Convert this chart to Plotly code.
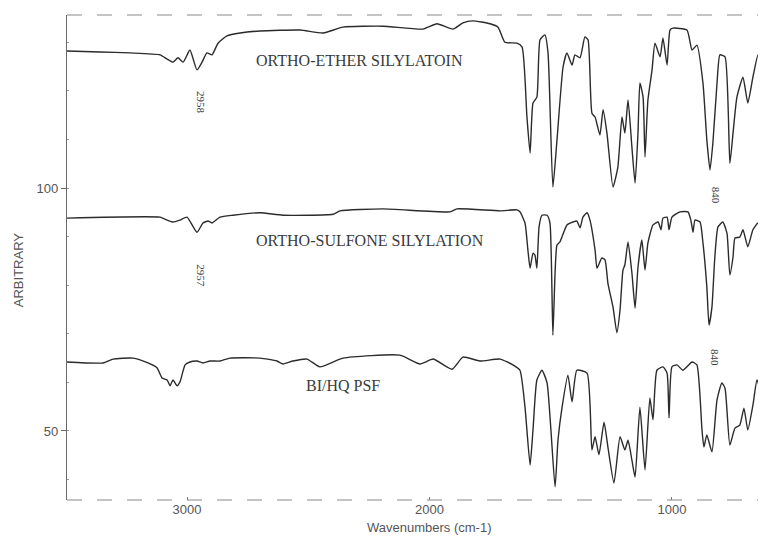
import plotly.graph_objects as go

# ---------------- data ----------------
ether_wn = [3495, 3359, 3235, 3111, 3082, 3058, 3037, 3016, 2988, 2959, 2938, 2918, 2897, 2872,
            2835, 2781, 2699, 2534, 2439, 2357, 2192, 2027, 1969, 1903, 1862, 1821, 1750, 1717,
            1689, 1639, 1618, 1598, 1585, 1573, 1557, 1544, 1524, 1511, 1491, 1474, 1449, 1433,
            1412, 1400, 1379, 1359, 1346, 1330, 1317, 1297, 1284, 1268, 1243, 1223, 1206, 1194,
            1181, 1165, 1152, 1140, 1132, 1119, 1111, 1099, 1082, 1070, 1049, 1037, 1020, 1008,
            996, 938, 917, 897, 872, 856, 843, 831, 814, 802, 781, 761, 748, 732, 707, 687, 666,
            645, 629, 608]
ether_val = [128.2, 128.0, 127.8, 127.4, 126.5, 125.9, 126.8, 125.9, 128.4, 124.3, 125.9, 127.8,
             127.4, 129.8, 131.3, 131.9, 132.3, 132.5, 131.9, 133.1, 133.3, 132.7, 133.8, 132.7,
             134.0, 134.4, 133.8, 133.1, 130.0, 129.8, 129.0, 114.6, 107.2, 117.5, 118.7, 130.5,
             131.5, 127.8, 100.2, 109.9, 124.9, 127.8, 125.3, 127.4, 126.8, 131.1, 130.5, 115.4,
             114.6, 110.9, 116.1, 111.3, 100.2, 104.3, 114.6, 111.3, 118.1, 108.4, 101.0, 111.3,
             121.6, 118.7, 106.4, 118.1, 124.3, 129.8, 127.0, 130.9, 125.3, 132.5, 132.9, 132.5,
             128.4, 129.4, 121.6, 109.9, 103.7, 109.3, 121.6, 127.4, 127.0, 105.1, 111.3, 118.7,
             122.8, 117.5, 122.8, 127.4, 124.9, 126.8]

sulfone_wn = [3495, 3111, 3082, 3058, 3029, 3000, 2959, 2934, 2913, 2897, 2864, 2810, 2699, 2604,
              2398, 2369, 2192, 1915, 1887, 1709, 1639, 1627, 1606, 1594, 1585, 1573, 1565, 1557,
              1548, 1536, 1515, 1503, 1491, 1482, 1474, 1462, 1433, 1408, 1392, 1379, 1367, 1350,
              1338, 1317, 1309, 1289, 1276, 1264, 1243, 1227, 1214, 1202, 1194, 1181, 1165, 1152,
              1140, 1124, 1111, 1099, 1078, 1057, 1045, 1037, 1020, 1012, 1000, 967, 934, 922,
              913, 905, 884, 872, 856, 847, 835, 823, 810, 790, 773, 761, 748, 740, 720, 707, 687,
              666, 645, 629, 616]
sulfone_val = [93.8, 94.0, 93.4, 93.0, 93.4, 94.0, 90.9, 92.8, 93.2, 92.8, 94.0, 94.4, 94.9, 94.4,
               94.6, 95.3, 95.7, 95.1, 95.7, 95.3, 95.5, 95.1, 92.8, 87.2, 83.5, 86.6, 86.2, 83.5,
               92.0, 94.4, 94.4, 92.8, 69.7, 82.5, 88.3, 88.9, 92.4, 93.0, 93.2, 91.8, 94.0, 94.9,
               93.4, 87.2, 83.5, 85.6, 85.2, 80.4, 75.5, 70.2, 74.9, 83.1, 84.2, 88.9, 82.5, 75.3,
               83.7, 89.3, 83.1, 88.7, 92.4, 93.0, 91.4, 93.8, 94.0, 91.4, 94.0, 95.1, 95.1, 93.4,
               90.9, 93.4, 93.0, 88.7, 79.6, 71.8, 75.5, 85.8, 92.0, 93.0, 90.7, 82.1, 85.8, 89.7,
               89.9, 91.4, 87.9, 91.4, 92.8, 91.4, 92.4]

psf_wn = [3495, 3346, 3305, 3223, 3161, 3124, 3103, 3082, 3070, 3058, 3041, 3029, 3008, 2988,
          2959, 2934, 2905, 2864, 2823, 2699, 2629, 2604, 2563, 2505, 2452, 2357, 2122, 2039,
          1985, 1907, 1862, 1792, 1709, 1656, 1627, 1606, 1585, 1573, 1557, 1536, 1515, 1482,
          1470, 1453, 1429, 1412, 1392, 1350, 1330, 1317, 1301, 1280, 1264, 1239, 1214, 1194,
          1181, 1165, 1152, 1132, 1111, 1091, 1078, 1062, 1037, 1020, 1012, 1000, 979, 955,
          917, 897, 876, 868, 856, 835, 814, 794, 781, 761, 740, 720, 703, 687, 666, 649, 629, 612]
psf_val = [64.2, 64.0, 64.8, 65.0, 64.0, 63.0, 60.9, 60.5, 59.3, 60.5, 59.3, 60.1, 63.6, 64.2,
           64.4, 64.0, 64.4, 64.4, 65.0, 65.0, 64.4, 63.8, 64.4, 64.8, 63.2, 65.0, 65.6, 63.8,
           64.8, 62.7, 65.2, 64.4, 64.8, 63.6, 62.5, 54.9, 43.0, 50.2, 60.5, 62.5, 59.9, 38.5,
           48.1, 54.9, 61.5, 56.0, 62.5, 61.9, 46.1, 48.8, 45.1, 51.8, 46.7, 39.3, 48.8, 46.1,
           48.1, 44.0, 40.5, 54.9, 42.0, 56.8, 52.3, 62.5, 63.2, 61.9, 52.7, 63.2, 63.6, 62.5,
           64.2, 63.6, 50.2, 46.7, 49.2, 45.7, 56.4, 59.9, 58.8, 47.1, 50.6, 51.2, 54.7, 50.2,
           55.3, 60.5, 57.8, 58.0]

x_ticks = [3000, 2000, 1000]
y_ticks = [50, 100]

labels = ["ORTHO-ETHER SILYLATOIN", "ORTHO-SULFONE SILYLATION", "BI/HQ PSF"]
label_wn = [2287, 2245, 2357]
label_val = [126.3, 89.1, 59.3]

peak_text = ["2958", "2957", "840", "840"]
peak_wn = [2942, 2946, 818, 822]
peak_val = [117.7, 82.0, 98.6, 65.2]

# ---------------- figure ----------------
LINE = "#2b2b2b"
fig = go.Figure()
for xs, ys in [(ether_wn, ether_val), (sulfone_wn, sulfone_val), (psf_wn, psf_val)]:
    fig.add_trace(go.Scatter(x=xs, y=ys, mode="lines",
                             line=dict(color=LINE, width=1.4, shape="spline", smoothing=0.5),
                             showlegend=False, hoverinfo="skip"))

for t, xv, yv in zip(labels, label_wn, label_val):
    fig.add_annotation(x=xv, y=yv, text=t, showarrow=False,
                       font=dict(family="Liberation Serif, Times New Roman, serif",
                                 size=16, color="#3a3a3a"))

for t, xv, yv in zip(peak_text, peak_wn, peak_val):
    fig.add_annotation(x=xv, y=yv, text=t, showarrow=False, textangle=90,
                       font=dict(family="Liberation Serif, Times New Roman, serif",
                                 size=11, color="#3a3a3a"))

# axis titles
fig.add_annotation(xref="paper", yref="y", x=-0.070, y=83.1, text="ARBITRARY",
                   textangle=-90, showarrow=False, xanchor="center", yanchor="middle",
                   font=dict(family="Liberation Sans, Arial, sans-serif", size=13, color="#555"))
fig.add_annotation(xref="x", yref="paper", x=2000, y=-0.056, yanchor="middle",
                   text="Wavenumbers (cm-1)", showarrow=False,
                   font=dict(family="Liberation Sans, Arial, sans-serif", size=13, color="#555"))

# top and bottom frame lines (dashed, scanned look)
for yv in (0, 1):
    fig.add_shape(type="line", xref="paper", yref="paper", x0=0, x1=1, y0=yv, y1=yv,
                  line=dict(color="#8a8a8a", width=1.2, dash="longdash"))

fig.update_xaxes(range=[3495, 612], tickvals=x_ticks, ticktext=[str(v) for v in x_ticks],
                 showgrid=False, zeroline=False, showline=False,
                 ticks="inside", ticklen=3, tickcolor="#777",
                 tickfont=dict(family="Liberation Sans, Arial, sans-serif", size=13, color="#555"))
fig.update_yaxes(range=[35.8, 135.6], tickvals=y_ticks, ticktext=[str(v) for v in y_ticks],
                 showgrid=False, zeroline=False, showline=True,
                 linecolor="#6a6a6a", linewidth=1.2,
                 ticks="outside", ticklen=5, tickcolor="#666",
                 minor=dict(dtick=10, ticks="inside", ticklen=2, tickcolor="#999"),
                 tickfont=dict(family="Liberation Sans, Arial, sans-serif", size=13, color="#555"))

# page has an 8px body margin, so the figure is sized to fit inside the window
fig.update_layout(width=758, height=531,
                  margin=dict(l=59, r=0, t=7, b=39),
                  paper_bgcolor="white", plot_bgcolor="white")

fig.write_html("out.html")
